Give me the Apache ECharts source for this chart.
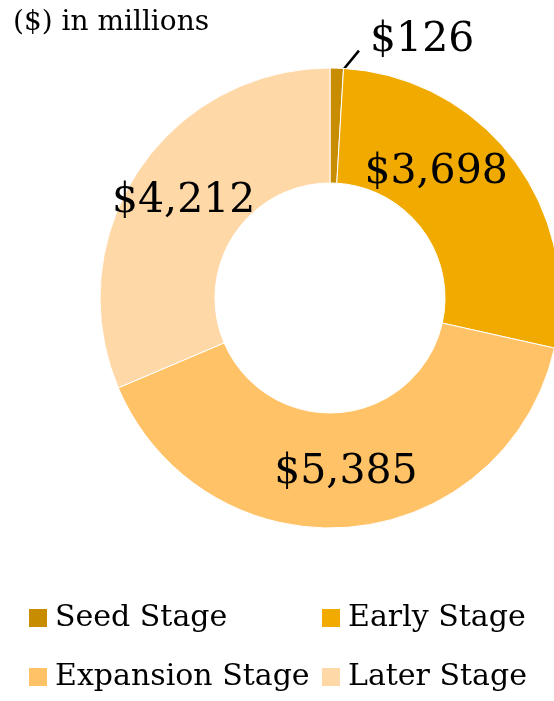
<!DOCTYPE html>
<html>
<head>
<meta charset="utf-8">
<script src="https://cdn.jsdelivr.net/npm/echarts@6/dist/echarts.min.js"></script>
<style>
  html, body { margin: 0; padding: 0; background: #fff; }
  #chart { width: 554px; height: 701px; }
</style>
</head>
<body>
<div id="chart"></div>
<script>
// 数据
var stages = ['Seed Stage', 'Early Stage', 'Expansion Stage', 'Later Stage'];
var amounts = [126, 3698, 5385, 4212];
var colors = ['#C88C00', '#F0AA00', '#FFC266', '#FFD8A8'];

var serif = "Georgia, 'DejaVu Serif', serif";

function money(v) {
    return '$' + v.toLocaleString('en-US');
}

var pieData = stages.map(function (name, i) {
    var item = { name: name, value: amounts[i], itemStyle: { color: colors[i] } };
    if (i === 0) {
        // 小块放外面，带引线
        item.label = { position: 'outside', distance: 2 };
        item.labelLine = { show: true, length: 6, length2: 0, lineStyle: { color: '#000', width: 2.5 } };
    }
    if (i === 1) {
        item.label = { offset: [-34, -20] };
    }
    return item;
});

// 图例：每个一格，排成两行两列
var legendPos = [[27, 603], [320, 603], [27, 662], [320, 662]];
var legends = stages.map(function (name, i) {
    return {
        data: [name],
        left: legendPos[i][0], top: legendPos[i][1],
        padding: 0,
        itemWidth: 20, itemHeight: 20,
        icon: 'rect',
        selectedMode: false,
        textStyle: { fontFamily: serif, fontSize: 30, color: '#000', padding: [0, 0, 0, 2] }
    };
});

var chart = echarts.init(document.getElementById('chart'));
chart.setOption({
    animation: false,
    title: {
        text: '($) in millions',
        left: 8,
        top: 4,
        textStyle: { fontFamily: serif, fontWeight: 'normal', fontSize: 28, color: '#000' }
    },
    legend: legends,
    series: [{
        type: 'pie',
        center: [330, 298],
        radius: [115, 230],
        startAngle: 90,
        clockwise: true,
        avoidLabelOverlap: false,
        itemStyle: { borderColor: '#fff', borderWidth: 1 },
        label: {
            show: true,
            position: 'inside',
            formatter: function (p) { return money(p.value); },
            fontFamily: serif,
            fontSize: 41,
            color: '#000',
            padding: [8, 0, 0, 0]
        },
        labelLine: { show: false },
        labelLayout: function (p) {
            if (p.dataIndex !== 0) {
                return;
            }
            // 把 $126 挪到右上，引线从扇块里斜着连过去
            var dx = 28, dy = -22;
            var r = p.labelRect;
            var s = p.rect;
            return {
                dx: dx,
                dy: dy,
                labelLinePoints: [
                    [s.x + 9, s.y + 8],
                    [r.x + dx - 11, r.y + dy + r.height - 10]
                ]
            };
        },
        emphasis: { disabled: true },
        data: pieData
    }]
});
</script>
</body>
</html>
